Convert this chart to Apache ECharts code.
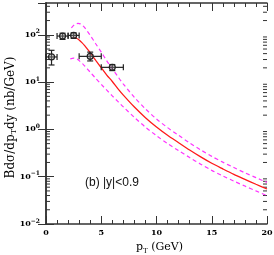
<!DOCTYPE html>
<html><head><meta charset="utf-8">
<script src="https://cdn.jsdelivr.net/npm/echarts@6/dist/echarts.min.js"></script>
<style>html,body{margin:0;padding:0;background:#fff}#c{width:274px;height:255px}</style>
</head><body><div id="c"></div>
<script>
// ---- data ----
const xTickValues = [0, 5, 10, 15, 20];
const yDecades = [0.01, 0.1, 1, 10, 100];
const pointX = [0.5, 1.5, 2.5, 4, 6];
const pointY = [34, 94, 97, 35, 20.5];
const pointXErr = [0.5, 0.5, 0.5, 1, 1];
const pointYLow = [23, 80, 84, 28, 17.5];
const pointYHigh = [47, 108, 110, 43, 23.5];

const centralX = [2.4, 2.6, 2.8, 3.0, 3.25, 3.5, 3.75, 4.0, 4.5, 5.0, 5.5, 6.0, 6.5, 7.0, 8, 9, 10, 11, 12, 13, 14, 15, 16, 17, 18, 19, 20];
const centralY = [87.9, 86.7, 83.6, 77.6, 68.4, 58.9, 49.8, 41.7, 28.8, 20.1, 14.1, 10.3, 7.3, 5.31, 2.97, 1.77, 1.125, 0.752, 0.524, 0.366, 0.262, 0.192, 0.146, 0.112, 0.0879, 0.0692, 0.055];

const upperX = [2.3, 2.5, 2.7, 2.9, 3.1, 3.3, 3.5, 3.75, 4.0, 4.5, 5.0, 5.5, 6.0, 6.5, 7.0, 8, 9, 10, 11, 12, 13, 14, 15, 16, 17, 18, 19, 20];
const upperY = [140, 158, 170, 174, 170, 158, 141, 118, 97.7, 64.6, 42.9, 28.2, 19.2, 13.1, 9.1, 4.76, 2.71, 1.66, 1.09, 0.748, 0.518, 0.369, 0.269, 0.203, 0.156, 0.121, 0.0955, 0.0759];

const lowerX = [2.2, 2.5, 2.8, 3.1, 3.3, 3.5, 4.0, 4.5, 5.0, 5.5, 6.0, 6.5, 7.0, 8, 9, 10, 11, 12, 13, 14, 15, 16, 17, 18, 19, 20];
const lowerY = [31, 32, 31, 27.2, 24.6, 21.9, 16.2, 12.0, 8.97, 6.76, 5.1, 3.9, 2.99, 1.79, 1.117, 0.735, 0.502, 0.356, 0.254, 0.184, 0.136, 0.104, 0.0807, 0.0634, 0.0501, 0.0398];

const yMin = 0.01, yMax = 470;
// ---- end data ----

const minorTicks = [];
yDecades.forEach(d => { for (let k = 2; k <= 9; k++) { const v = d * k; if (v < yMax) minorTicks.push([v]); } });

const zip = (a, b) => a.map((v, i) => [v, b[i]]);
const serif = 'DejaVu Serif';
const frame = { show: true, lineStyle: { color: '#333', width: 1.5 } };

function yLabel(v) {
  const e = Math.round(Math.log10(v));
  return '{b|10}{s|' + (e < 0 ? '\u2212' + (-e) : e) + '}';
}
const yRich = {
  b: { fontFamily: serif, fontWeight: 'bold', fontSize: 8, color: '#000' },
  s: { fontFamily: serif, fontWeight: 'bold', fontSize: 6, color: '#000', padding: [0, 0, 6, 0] }
};

const chart = echarts.init(document.getElementById('c'), null, { renderer: 'canvas' });
chart.setOption({
  animation: false,
  backgroundColor: '#fff',
  grid: { left: 46, right: 7, top: 3, bottom: 31, containLabel: false, outerBoundsMode: 'none' },
  xAxis: [
    { type: 'value', min: 0, max: 20, interval: 5, position: 'bottom',
      axisLine: frame, splitLine: { show: false },
      axisTick: { inside: true, length: 8, lineStyle: { color: '#333', width: 1 } },
      minorTick: { show: true, splitNumber: 5, length: 4, lineStyle: { color: '#333', width: 1 } },
      axisLabel: { fontFamily: serif, fontWeight: 'bold', fontSize: 8, color: '#000', margin: 5 },
      name: '{a|p}{s|T}{a| (GeV)}', nameLocation: 'middle', nameGap: 14,
      nameTextStyle: { padding: [0, 0, 0, 6], rich: {
        a: { fontFamily: serif, fontSize: 11, color: '#000' },
        s: { fontFamily: serif, fontSize: 7, color: '#000', padding: [7, 0, 0, 0] } } } },
    { type: 'value', min: 0, max: 20, interval: 5, position: 'top',
      axisLine: frame, splitLine: { show: false },
      axisTick: { inside: true, length: 8, lineStyle: { color: '#333', width: 1 } },
      minorTick: { show: true, splitNumber: 5, length: 4, lineStyle: { color: '#333', width: 1 } },
      axisLabel: { show: false } }
  ],
  yAxis: [
    { type: 'log', logBase: 10, min: yMin, max: yMax, position: 'left',
      axisLine: frame, splitLine: { show: false },
      axisTick: { inside: true, length: 8, lineStyle: { color: '#333', width: 1 } },
      axisLabel: { formatter: yLabel, rich: yRich, margin: 6, showMaxLabel: false },
      name: '{a|Bd\u03c3/dp}{s|T}{a|dy (nb/GeV)}', nameLocation: 'middle', nameGap: 28, nameRotate: 90,
      nameMoveOverlap: false,
      nameTextStyle: { padding: [0, 8, 0, 0], rich: {
        a: { fontFamily: serif, fontSize: 12, color: '#000' },
        s: { fontFamily: serif, fontSize: 8, color: '#000', padding: [7, 0, 0, 0] } } } },
    { type: 'log', logBase: 10, min: yMin, max: yMax, position: 'right',
      axisLine: frame, splitLine: { show: false },
      axisTick: { inside: true, length: 8, lineStyle: { color: '#333', width: 1 } },
      axisLabel: { show: false } }
  ],
  graphic: [
    { type: 'text', left: 85, top: 177, style: { text: '(b) |y|<0.9', font: '12px "Liberation Sans"', fill: '#111' } }
  ],
  series: [
    { type: 'custom', name: 'minor ticks', data: minorTicks, silent: true, clip: false,
      renderItem: (params, api) => {
        const v = api.value(0);
        const l = api.coord([0, v]), r = api.coord([20, v]);
        const st = { stroke: '#333', lineWidth: 1, fill: 'none' };
        return { type: 'group', children: [
          { type: 'line', shape: { x1: l[0], y1: l[1], x2: l[0] + 4, y2: l[1] }, style: st },
          { type: 'line', shape: { x1: r[0] - 4, y1: r[1], x2: r[0], y2: r[1] }, style: st }
        ] };
      } },
    { type: 'line', name: 'upper', data: zip(upperX, upperY), symbol: 'none', smooth: 0.3,
      lineStyle: { color: '#ff33ff', width: 1.2, type: [4, 3] } },
    { type: 'line', name: 'lower', data: zip(lowerX, lowerY), symbol: 'none', smooth: 0.3,
      lineStyle: { color: '#ff33ff', width: 1.2, type: [4, 3] } },
    { type: 'line', name: 'central', data: zip(centralX, centralY), symbol: 'none', smooth: 0.3,
      lineStyle: { color: '#ff1a1a', width: 1.3 } },
    { type: 'custom', name: 'data', clip: false, z: 5,
      data: pointX.map((x, i) => [x, pointY[i], pointXErr[i], pointYLow[i], pointYHigh[i]]),
      renderItem: (params, api) => {
        const x = api.value(0), y = api.value(1), xe = api.value(2), lo = api.value(3), hi = api.value(4);
        const c = api.coord([x, y]), l = api.coord([x - xe, y]), r = api.coord([x + xe, y]);
        const t = api.coord([x, hi]), b = api.coord([x, lo]);
        const st = { stroke: '#222', lineWidth: 1.2, fill: 'none' };
        const cap = 3;
        return { type: 'group', children: [
          { type: 'line', shape: { x1: l[0], y1: l[1], x2: r[0], y2: r[1] }, style: st },
          { type: 'line', shape: { x1: l[0], y1: l[1] - cap, x2: l[0], y2: l[1] + cap }, style: st },
          { type: 'line', shape: { x1: r[0], y1: r[1] - cap, x2: r[0], y2: r[1] + cap }, style: st },
          { type: 'line', shape: { x1: t[0], y1: t[1], x2: b[0], y2: b[1] }, style: st },
          { type: 'line', shape: { x1: t[0] - cap, y1: t[1], x2: t[0] + cap, y2: t[1] }, style: st },
          { type: 'line', shape: { x1: b[0] - cap, y1: b[1], x2: b[0] + cap, y2: b[1] }, style: st },
          { type: 'circle', shape: { cx: c[0], cy: c[1], r: 3 }, style: { stroke: '#222', lineWidth: 1.2, fill: 'rgba(140,140,140,0.4)' } }
        ] };
      } }
  ]
});
</script></body></html>
